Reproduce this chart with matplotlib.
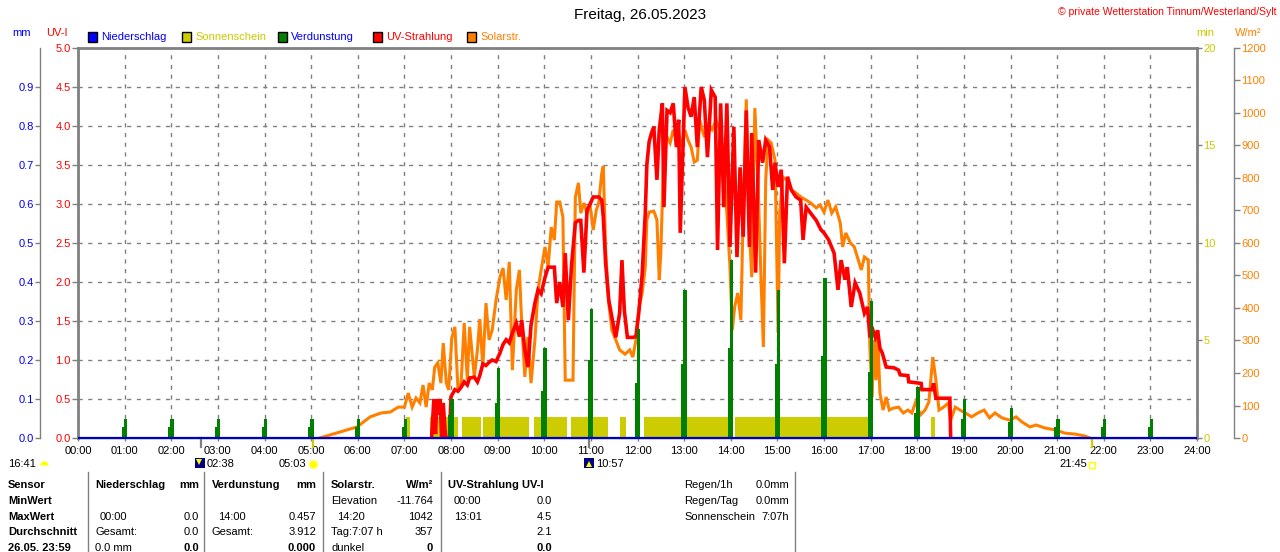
import matplotlib
matplotlib.use('Agg')
import matplotlib.pyplot as plt
from matplotlib.lines import Line2D
from matplotlib.patches import Rectangle
import matplotlib.transforms as mtransforms

plt.rcParams['font.family'] = ['Liberation Sans', 'DejaVu Sans']

# ---------------- data ----------------
title = "Freitag, 26.05.2023"
copyright_text = "© private Wetterstation Tinnum/Westerland/Sylt"
legend_labels = ["Niederschlag", "Sonnenschein", "Verdunstung", "UV-Strahlung", "Solarstr."]
hour_labels = ["%02d:00" % h for h in range(25)]

uv_ticks = [0.0, 0.5, 1.0, 1.5, 2.0, 2.5, 3.0, 3.5, 4.0, 4.5, 5.0]
mm_ticks = [0.0, 0.1, 0.2, 0.3, 0.4, 0.5, 0.6, 0.7, 0.8, 0.9]
min_ticks = [0, 5, 10, 15, 20]
wm2_ticks = [0, 100, 200, 300, 400, 500, 600, 700, 800, 900, 1000, 1100, 1200]

solar_times = [
    "05:11", "05:28", "05:59", "06:16", "06:30", "06:42", "06:52", "07:00", "07:05", "07:10",
    "07:15", "07:20", "07:24", "07:28", "07:32", "07:36", "07:39", "07:43", "07:47", "07:50",
    "07:54", "07:57", "08:01", "08:05", "08:09", "08:13", "08:17", "08:21", "08:24", "08:30",
    "08:34", "08:37", "08:41", "08:45", "08:49", "08:53", "08:58", "09:03", "09:07", "09:11",
    "09:15", "09:19", "09:24", "09:28", "09:31", "09:35", "09:39", "09:43", "09:48", "09:52",
    "09:56", "10:01", "10:05", "10:09", "10:13", "10:16", "10:20", "10:24", "10:27", "10:37",
    "10:40", "10:44", "10:47", "10:51", "10:55", "10:59", "11:03", "11:07", "11:10", "11:14",
    "11:16", "11:19", "11:23", "11:27", "11:32", "11:37", "11:44", "11:50", "11:54", "11:58",
    "12:02", "12:06", "12:10", "12:12", "12:15", "12:21", "12:25", "12:28", "12:30", "12:34",
    "12:38", "12:42", "12:46", "12:50", "12:53", "12:57", "13:01", "13:05", "13:09", "13:13",
    "13:17", "13:20", "13:26", "13:31", "13:36", "13:41", "13:46", "13:51", "13:55", "13:59",
    "14:02", "14:05", "14:09", "14:13", "14:16", "14:20", "14:23", "14:27", "14:31", "14:35",
    "14:39", "14:42", "14:45", "14:48", "14:52", "14:57", "15:01", "15:03", "15:07", "15:12",
    "15:18", "15:24", "15:30", "15:37", "15:43", "15:50", "15:55", "16:00", "16:05", "16:10",
    "16:15", "16:21", "16:24", "16:28", "16:34", "16:39", "16:44", "16:48", "16:52", "16:57",
    "16:59", "17:02", "17:04", "17:07", "17:09", "17:12", "17:16", "17:20", "17:24", "17:29",
    "17:36", "17:42", "17:48", "17:53", "17:58", "18:04", "18:10", "18:15", "18:20", "18:24",
    "18:28", "18:34", "18:40", "18:43", "18:49", "18:55", "19:02", "19:10", "19:18", "19:26",
    "19:33", "19:40", "19:49", "19:59", "20:07", "20:15", "20:25", "20:33", "20:44", "20:57",
    "21:10", "21:23", "21:36", "21:42",
]
solar_values = [
    0, 12, 34, 65, 77, 80, 95, 95, 138, 95,
    123, 108, 163, 95, 169, 148, 218, 231, 169, 292,
    169, 148, 308, 342, 148, 169, 354, 178, 342, 188,
    271, 366, 218, 415, 302, 332, 425, 495, 523, 425,
    542, 209, 455, 517, 354, 188, 311, 169, 302, 455,
    517, 588, 526, 649, 609, 726, 726, 680, 178, 178,
    741, 785, 692, 723, 692, 717, 640, 701, 723, 815,
    837, 578, 415, 332, 302, 271, 258, 271, 249, 302,
    403, 446, 526, 671, 695, 698, 671, 486, 569, 895,
    926, 908, 948, 917, 938, 895, 948, 917, 895, 849,
    855, 978, 926, 957, 948, 978, 948, 834, 692, 526,
    332, 403, 446, 363, 692, 1042, 692, 495, 1015, 794,
    486, 280, 794, 917, 908, 855, 323, 692, 803, 794,
    763, 754, 742, 732, 723, 708, 717, 695, 732, 692,
    711, 661, 588, 631, 600, 588, 548, 517, 557, 548,
    280, 126, 302, 178, 323, 138, 86, 126, 86, 92,
    95, 77, 86, 77, 111, 71, 86, 111, 249, 178,
    86, 95, 108, 55, 95, 86, 77, 65, 77, 86,
    62, 77, 62, 55, 65, 49, 34, 40, 31, 25,
    15, 12, 6, 0,
]

uv_times = [
    "07:35", "07:38", "07:40", "07:42", "07:44", "07:46", "07:48", "07:50", "07:53", "07:58",
    "08:00", "08:05", "08:09", "08:13", "08:17", "08:21", "08:24", "08:30", "08:34", "08:37",
    "08:41", "08:45", "08:49", "08:53", "08:58", "09:03", "09:07", "09:11", "09:15", "09:19",
    "09:24", "09:28", "09:31", "09:35", "09:39", "09:43", "09:48", "09:52", "09:56", "10:01",
    "10:05", "10:09", "10:13", "10:16", "10:20", "10:24", "10:27", "10:31", "10:35", "10:40",
    "10:44", "10:47", "10:51", "10:55", "10:59", "11:03", "11:10", "11:14", "11:16", "11:19",
    "11:23", "11:27", "11:32", "11:37", "11:40", "11:43", "11:47", "11:54", "11:58", "12:02",
    "12:06", "12:10", "12:12", "12:15", "12:18", "12:21", "12:25", "12:28", "12:32", "12:34",
    "12:38", "12:42", "12:46", "12:50", "12:53", "12:55", "13:01", "13:05", "13:09", "13:13",
    "13:17", "13:22", "13:26", "13:30", "13:35", "13:40", "13:43", "13:47", "13:51", "13:55",
    "13:59", "14:04", "14:08", "14:12", "14:16", "14:20", "14:24", "14:27", "14:32", "14:36",
    "14:41", "14:45", "14:50", "14:54", "14:57", "15:01", "15:05", "15:09", "15:13", "15:18",
    "15:24", "15:30", "15:33", "15:37", "15:43", "15:50", "15:56", "16:00", "16:06", "16:13",
    "16:18", "16:22", "16:27", "16:30", "16:35", "16:40", "16:46", "16:52", "16:56", "16:59",
    "17:03", "17:06", "17:09", "17:12", "17:15", "17:20", "17:30", "17:36", "17:38", "17:48",
    "17:49", "18:05", "18:06", "18:19", "18:21", "18:24", "18:42", "18:43",
]
uv_values = [
    0.0, 0.5, 0.05, 0.5, 0.3, 0.5, 0.0, 0.45, 0.0, 0.0,
    0.53, 0.62, 0.6, 0.65, 0.72, 0.68, 0.77, 0.78, 0.72, 0.80,
    0.95, 0.93, 0.97, 1.0, 0.98, 1.09, 1.2, 1.26, 1.22, 1.35,
    1.47, 1.30, 1.51, 1.13, 0.91, 1.45, 1.73, 1.9, 1.85, 2.06,
    2.19, 2.19, 2.19, 1.73, 2.0, 1.68, 2.37, 1.51, 2.2, 2.76,
    2.79, 2.79, 2.12, 2.92, 3.0, 3.09, 3.09, 3.05, 2.83, 2.24,
    1.77, 1.55, 1.29, 1.60, 2.28, 1.64, 1.29, 1.29, 1.3, 1.64,
    2.1, 2.88, 3.5, 3.8, 3.91, 3.99, 3.31, 3.95, 4.29, 2.96,
    4.2, 4.17, 4.29, 3.73, 4.08, 2.63, 4.5, 4.24, 4.12, 4.37,
    3.73, 4.5, 4.33, 3.6, 4.46, 4.37, 2.41, 4.29, 2.96, 4.29,
    2.45, 3.99, 2.32, 3.47, 2.58, 4.2, 2.45, 3.91, 2.12, 3.82,
    3.53, 3.82, 3.73, 3.18, 3.53, 3.22, 3.44, 2.24, 3.35, 3.18,
    3.09, 3.05, 2.54, 2.96, 2.88, 2.79, 2.67, 2.63, 2.54, 2.37,
    1.90, 2.28, 2.03, 2.19, 1.68, 1.99, 1.86, 1.60, 1.68, 1.29,
    1.38, 1.29, 1.38, 1.15, 1.09, 0.91, 0.90, 0.87, 0.81, 0.80,
    0.72, 0.70, 0.62, 0.62, 0.70, 0.51, 0.51, 0.0,
]

evap_hours = list(range(1, 24))
evap_values = [0.05, 0.05, 0.05, 0.05, 0.05, 0.05, 0.05, 0.10, 0.18, 0.23, 0.33, 0.28,
               0.38, 0.457, 0.38, 0.41, 0.35, 0.13, 0.10, 0.077, 0.05, 0.05, 0.05]
evap_prev = [0.027, 0.027, 0.027, 0.027, 0.027, 0.027, 0.027, 0.06, 0.09, 0.12, 0.20, 0.14,
             0.19, 0.23, 0.19, 0.21, 0.17, 0.065, 0.05, 0.04, 0.027, 0.027, 0.027]

sun_start = ["07:02", "07:33", "08:14", "08:41", "09:47", "10:34", "11:38", "12:08", "14:05", "18:18"]
sun_end = ["07:07", "08:09", "08:39", "09:40", "10:29", "11:22", "11:45", "13:59", "16:58", "18:23"]
sun_minutes = 1.1

rise_set_times = ["02:38", "05:03", "10:57", "21:45"]

table_header = ["Sensor", "MinWert", "MaxWert", "Durchschnitt", "26.05. 23:59"]

# ---------------- helpers ----------------
def hrs(t):
    h, m = t.split(":")
    return int(h) + int(m) / 60.0

W, H = 1280, 552
def fx(x):
    return x / W
def fy(y):
    return 1 - y / H

GRAY = '#808080'
BLUE = '#0000ff'
RED = '#ff0000'
ORANGE = '#ff8000'
YELLOW = '#cccc00'
GREEN = '#008000'
FS = 8

fig = plt.figure(figsize=(12.8, 5.52), dpi=100)
ax = fig.add_axes([fx(78), fy(438), 1119 / W, 390 / H])

# main axis (UV)
ax.set_xlim(0, 24)
ax.set_ylim(0, 5)
ax.set_xticks(range(25))
ax.set_xticklabels(hour_labels)
ax.set_yticks(uv_ticks)
ax.set_yticklabels(["%.1f" % v for v in uv_ticks])
ax.tick_params(axis='y', length=4.3, width=1, color=GRAY, pad=1, labelsize=FS, labelcolor=RED)
ax.tick_params(axis='x', length=2, width=1, color=GRAY, pad=4, labelsize=FS)
ax.grid(True, color=GRAY, linestyle=(0, (3, 4)), linewidth=1)
ax.set_axisbelow(True)
for s in ['left', 'top', 'right']:
    ax.spines[s].set_color(GRAY)
    ax.spines[s].set_linewidth(2)
ax.spines['bottom'].set_color(GRAY)
ax.spines['bottom'].set_linewidth(1)

# sunshine (min)
ax_min = ax.twinx()
for s in ax_min.spines.values():
    s.set_visible(False)
ax_min.set_ylim(0, 20)
for a, b in zip(sun_start, sun_end):
    ax_min.bar(hrs(a), sun_minutes, width=hrs(b) - hrs(a), align='edge', color=YELLOW, linewidth=0)
ax_min.set_yticks(min_ticks)
ax_min.set_yticklabels([str(v) for v in min_ticks])
ax_min.tick_params(axis='y', length=3.6, width=1, color=GRAY, pad=1, labelsize=FS, labelcolor=YELLOW)

# solar radiation
ax_sol = ax.twinx()
for k, s in ax_sol.spines.items():
    s.set_visible(False)
ax_sol.spines['right'].set_visible(True)
ax_sol.spines['right'].set_position(('outward', 26.6))
ax_sol.spines['right'].set_color(GRAY)
ax_sol.spines['right'].set_linewidth(1)
ax_sol.set_ylim(0, 1200)
ax_sol.plot([hrs(t) for t in solar_times], solar_values, color=ORANGE, lw=2.2, solid_joinstyle='miter')
ax_sol.set_yticks(wm2_ticks)
ax_sol.set_yticklabels([str(v) for v in wm2_ticks])
ax_sol.tick_params(axis='y', length=4.3, width=1, color=GRAY, pad=1, labelsize=FS, labelcolor=ORANGE)

# UV line
ax_red = ax.twinx()
ax_red.set_ylim(0, 5)
ax_red.plot([hrs(t) for t in uv_times], uv_values, color=RED, lw=2.6, solid_joinstyle='miter')
ax_red.yaxis.set_visible(False)
for s in ax_red.spines.values():
    s.set_visible(False)

# evaporation / precipitation (mm)
ax_mm = ax.twinx()
for s in ax_mm.spines.values():
    s.set_visible(False)
ax_mm.spines['left'].set_visible(True)
ax_mm.spines['left'].set_position(('outward', 27.4))
ax_mm.spines['left'].set_color(GRAY)
ax_mm.spines['left'].set_linewidth(1)
ax_mm.yaxis.set_ticks_position('left')
ax_mm.yaxis.set_label_position('left')
ax_mm.set_ylim(0, 1.0)
ax_mm.bar([h - 0.038 for h in evap_hours], evap_prev, width=0.046, color=GREEN, linewidth=0)
ax_mm.bar([h + 0.018 for h in evap_hours], evap_values, width=0.072, color=GREEN, linewidth=0)
ax_mm.plot([0, 24], [0, 0], color='#0000c0', lw=1.6, clip_on=False, solid_capstyle='butt')
ax_mm.set_yticks(mm_ticks)
ax_mm.set_yticklabels(["%.1f" % v for v in mm_ticks])
ax_mm.tick_params(axis='y', length=3.6, width=1, color=GRAY, pad=1, labelsize=FS, labelcolor=BLUE)

# rise/set markers below axis
trans = mtransforms.blended_transform_factory(ax.transData, ax.transAxes)
rs_colors = [GRAY, YELLOW, GRAY, YELLOW]
for t, c in zip(rise_set_times, rs_colors):
    ax.plot([hrs(t), hrs(t)], [0.0, -0.024], color=c, lw=1.6, transform=trans, clip_on=False)

def icon(x, y, **kw):
    fig.add_artist(Line2D([fx(x)], [fy(y)], transform=fig.transFigure, linestyle='none', **kw))

fig.text(fx(8), fy(464), "16:41", fontsize=FS, ha='left', va='center')
icon(44, 465, marker='o', fillstyle='top', markersize=6, color='#ffff00', markeredgewidth=0)
icon(200, 463, marker='s', markersize=7, color='#000080', markeredgewidth=0)
icon(199, 462, marker='v', markersize=4, color='#ffff00', markeredgewidth=0)
fig.text(fx(207), fy(464), "02:38", fontsize=FS, ha='left', va='center')
fig.text(fx(306), fy(464), "05:03", fontsize=FS, ha='right', va='center')
icon(313, 464, marker='o', markersize=6, markerfacecolor='#ffff00', markeredgecolor='#ffff80', markeredgewidth=1)
icon(589, 463, marker='s', markersize=7, color='#000080', markeredgewidth=0)
icon(589, 464, marker='^', markersize=4, color='#ffff00', markeredgewidth=0)
fig.text(fx(596), fy(464), "10:57", fontsize=FS, ha='left', va='center')
fig.text(fx(1087), fy(464), "21:45", fontsize=FS, ha='right', va='center')
icon(1092, 465, marker='s', markersize=4, markerfacecolor='none', markeredgecolor='#ffff00', markeredgewidth=1)

# title, copyright
fig.text(0.5, fy(15), title, fontsize=11, ha='center', va='center')
fig.text(fx(1277), fy(12), copyright_text, fontsize=7.5, ha='right', va='center', color=RED)

# axis unit labels
fig.text(fx(22), fy(33), "mm", fontsize=FS, color=BLUE, ha='center', va='center')
fig.text(fx(57), fy(33), "UV-I", fontsize=FS, color=RED, ha='center', va='center')
fig.text(fx(1205), fy(33), "min", fontsize=FS, color=YELLOW, ha='center', va='center')
fig.text(fx(1248), fy(33), "W/m²", fontsize=FS, color=ORANGE, ha='center', va='center')

# legend
leg_colors = [BLUE, YELLOW, GREEN, RED, ORANGE]
leg_text_colors = [BLUE, YELLOW, BLUE, RED, ORANGE]
leg_x = [88, 182, 278, 373, 467]
for x, c, tc, lab in zip(leg_x, leg_colors, leg_text_colors, legend_labels):
    fig.add_artist(Rectangle((fx(x), fy(42)), 9 / W, 10 / H, transform=fig.transFigure,
                             facecolor=c, edgecolor='black', linewidth=1))
    fig.text(fx(x + 13), fy(37), lab, fontsize=FS, color=tc, ha='left', va='center')

# table
row_y = [485, 501, 517, 532, 548]
for y, lab in zip(row_y, table_header):
    fig.text(fx(8), fy(y), lab, fontsize=FS, fontweight='bold', ha='left', va='center')

def cell(x, y, s, ha='left', bold=False):
    fig.text(fx(x), fy(y), s, fontsize=FS, ha=ha, va='center', fontweight='bold' if bold else 'normal')

# Niederschlag
cell(95, row_y[0], "Niederschlag", bold=True); cell(199, row_y[0], "mm", 'right', True)
cell(100, row_y[2], "00:00"); cell(199, row_y[2], "0.0", 'right')
cell(95, row_y[3], "Gesamt:"); cell(199, row_y[3], "0.0", 'right')
cell(95, row_y[4], "0.0 mm"); cell(199, row_y[4], "0.0", 'right', True)
# Verdunstung
cell(212, row_y[0], "Verdunstung", bold=True); cell(316, row_y[0], "mm", 'right', True)
cell(218, row_y[2], "14:00"); cell(316, row_y[2], "0.457", 'right')
cell(212, row_y[3], "Gesamt:"); cell(316, row_y[3], "3.912", 'right')
cell(316, row_y[4], "0.000", 'right', True)
# Solarstr.
cell(331, row_y[0], "Solarstr.", bold=True); cell(433, row_y[0], "W/m²", 'right', True)
cell(331, row_y[1], "Elevation"); cell(433, row_y[1], "-11.764", 'right')
cell(337, row_y[2], "14:20"); cell(433, row_y[2], "1042", 'right')
cell(331, row_y[3], "Tag:7:07 h"); cell(433, row_y[3], "357", 'right')
cell(331, row_y[4], "dunkel"); cell(433, row_y[4], "0", 'right', True)
# UV
cell(448, row_y[0], "UV-Strahlung UV-I", bold=True)
cell(454, row_y[1], "00:00"); cell(552, row_y[1], "0.0", 'right')
cell(454, row_y[2], "13:01"); cell(552, row_y[2], "4.5", 'right')
cell(552, row_y[3], "2.1", 'right')
cell(552, row_y[4], "0.0", 'right', True)
# Regen
cell(684, row_y[0], "Regen/1h"); cell(789, row_y[0], "0.0mm", 'right')
cell(684, row_y[1], "Regen/Tag"); cell(789, row_y[1], "0.0mm", 'right')
cell(684, row_y[2], "Sonnenschein"); cell(789, row_y[2], "7:07h", 'right')

for x in [88, 204, 323, 441, 795]:
    fig.add_artist(Line2D([fx(x), fx(x)], [fy(472), fy(552)], transform=fig.transFigure, color=GRAY, lw=1))

fig.savefig("out.png", dpi=100)
